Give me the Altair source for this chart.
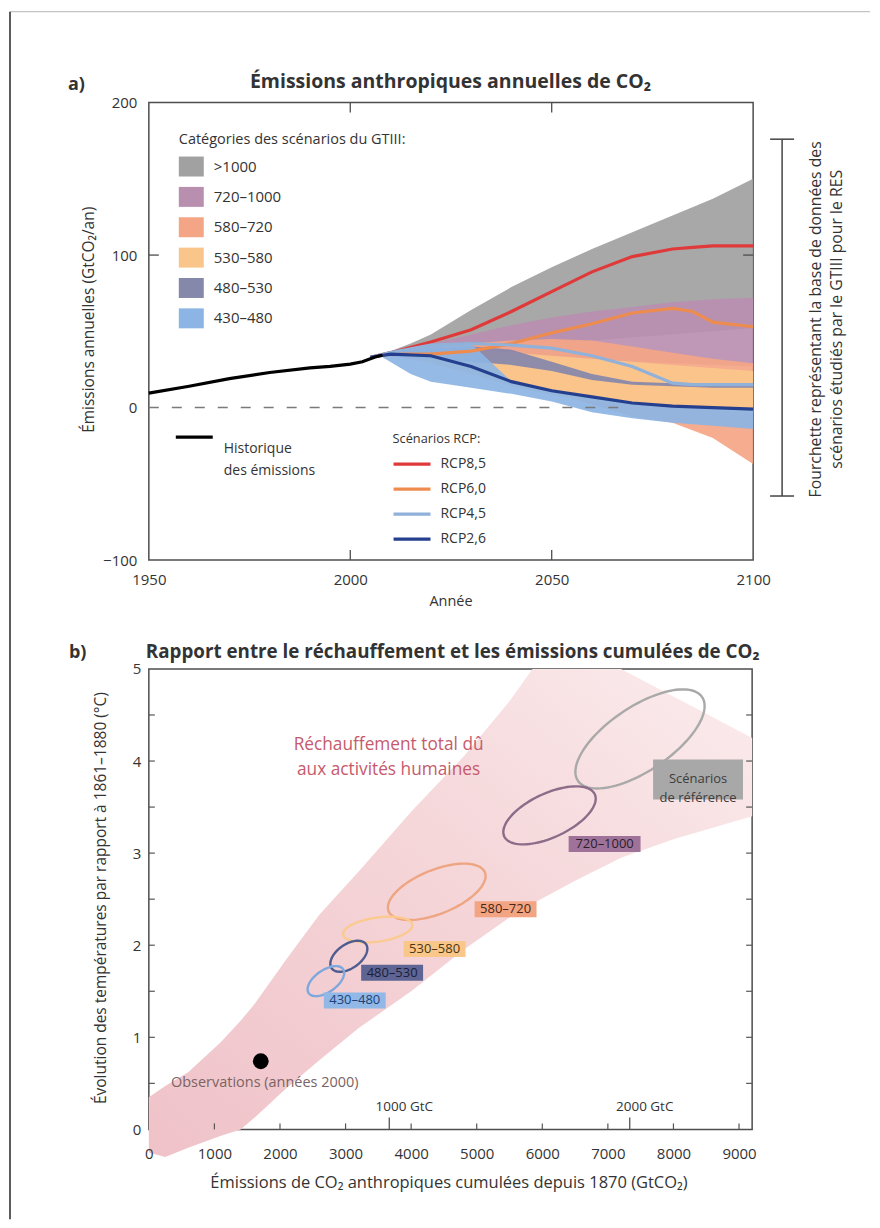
import altair as alt
import numpy as np
import pandas as pd

FONT = "Open Sans"
INK = "#333333"

# =================== DATA : panel a ===================
hist_years = [1950, 1960, 1970, 1980, 1990, 1995, 2000, 2003, 2006, 2008]
hist_vals = [9.5, 14.0, 19.0, 23.0, 26.0, 27.0, 28.5, 30.0, 33.0, 34.5]

rcp_names = ["RCP8,5", "RCP6,0", "RCP4,5", "RCP2,6"]
rcp_years = [2005, 2010, 2020, 2030, 2040, 2050, 2060, 2070, 2080, 2085, 2090, 2100]
rcp85 = [33, 36, 43, 51, 63, 76, 89, 99, 104, 105, 106, 106]
rcp60 = [33, 35, 35, 37, 42, 49, 55, 62, 65, 63, 56, 53]
rcp45 = [33, 36, 41, 42, 41, 39, 34, 27, 16, 15, 15, 15]
rcp26 = [33, 35, 34, 27, 17, 11, 7, 3, 1, 0.5, 0, -1]

cat_names = [">1000", "720–1000", "580–720", "530–580", "480–530", "430–480"]
band_years = [2008, 2015, 2020, 2030, 2040, 2050, 2060, 2070, 2080, 2090, 2100]
hi_1000 = [35, 42, 48, 64, 79, 92, 104, 115, 126, 137, 150]
lo_1000 = [34, 35, 36, 38, 40, 42, 44, 46, 48, 50, 52]
hi_720 = [35, 39, 42, 48, 54, 59, 63, 66, 69, 71, 72]
lo_720 = [34, 34, 34, 34, 33, 32, 31, 30, 29, 28, 27]
hi_580 = [35, 37, 39, 42, 44, 45, 44, 40, 36, 32, 29]
lo_580 = [34, 32, 30, 24, 16, 10, 2, -6, -10, -20, -37]
hi_530 = [35, 37, 38, 38, 36, 34, 32, 30, 28, 26, 24]
lo_530 = [34, 32, 29, 22, 14, 8, 4, 2, 0, -2, -4]
hi_480 = [35, 38, 39, 40, 38, 30, 22, 17, 16, 15, 15]
lo_480 = [34, 33, 32, 30, 28, 24, 18, 15, 14, 13, 13]
hi_430 = [35, 38, 41, 42, 17, 12, 7, 3, 1, 0, -1]
lo_430 = [33, 22, 17, 13, 9, 4, -3, -7, -10, -12, -14]

zero_line_end = [2068]
fourchette = [176, -58]          # range of the WGIII database (GtCO2/yr)
a_xticks = [1950, 2000, 2050, 2100]
a_yticks = [-100, 0, 100, 200]
a_inner_xticks = [2000, 2050]
a_inner_yticks = [100]

# =================== DATA : panel b ===================
plume_x = [0, 250, 600, 1100, 1400, 1600, 2100, 2600, 3200, 4000, 4800, 5500, 5850, 6500, 7200, 8000, 9200]
plume_hi = [0.35, 0.47, 0.62, 0.95, 1.18, 1.35, 1.85, 2.33, 2.8, 3.45, 4.05, 4.65, 5.0, 5.0, 5.0, 4.7, 4.25]
plume_lo = [-0.25, -0.3, -0.2, -0.07, 0.0, 0.12, 0.45, 0.75, 1.1, 1.5, 1.95, 2.3, 2.45, 2.7, 2.95, 3.15, 3.4]

ell_names = [">1000", "720–1000", "580–720", "530–580", "480–530", "430–480"]
ell_cx = [7490, 6110, 4390, 3490, 3050, 2700]
ell_cy = [4.24, 3.41, 2.58, 2.17, 1.88, 1.61]

lab_text = ["Scénarios\nde référence", "720–1000", "580–720", "530–580", "480–530", "430–480"]
lab_x = [8375, 6950, 5440, 4357, 3710, 3140]
lab_y = [3.80, 3.10, 2.39, 1.96, 1.70, 1.40]

obs_x = [1707]
obs_y = [0.74]

b_xticks = [0, 1000, 2000, 3000, 4000, 5000, 6000, 7000, 8000, 9000]
b_yticks = [0, 1, 2, 3, 4, 5]
b_halfticks = [0.5, 1, 1.5, 2, 2.5, 3, 3.5, 4, 4.5]
gtc_ticks = [1000, 2000]  # GtC

# =================== STYLES ===================
BAND_COLORS = {">1000": "#a1a1a1", "720–1000": "#b98fb0", "580–720": "#f4a586",
               "530–580": "#fac58b", "480–530": "#8587ab", "430–480": "#8cb4e4"}
RCP_COLORS = {"RCP8,5": "#e0393a", "RCP6,0": "#ee8c50", "RCP4,5": "#8fb1da", "RCP2,6": "#243f8e"}
ELL_COLORS = {">1000": "#a9a9a9", "720–1000": "#8d6c89", "580–720": "#eea581",
              "530–580": "#fbca90", "480–530": "#4e5d8f", "430–480": "#7ea8dc"}
ELL_SHAPE = {">1000": (75, 32, 34), "720–1000": (50, 22, 25), "580–720": (52, 22, 22),
             "530–580": (35, 12, 8), "480–530": (21, 12, 35), "430–480": (21, 11, 35)}
BOX_FILL = {">1000": "#a8a8a8", "720–1000": "#9f7399", "580–720": "#f3a583",
            "530–580": "#f9c789", "480–530": "#5e6493", "430–480": "#91b8e6"}
BOX_TEXT = {">1000": "#3d3d3d", "720–1000": "#2d1d2b", "580–720": "#4a2515",
            "530–580": "#4a3512", "480–530": "#1b1e3a", "430–480": "#20427a"}
BOX_SIZE = {">1000": (90, 40), "720–1000": (72, 16), "580–720": (62, 16),
            "530–580": (62, 16), "480–530": (62, 16), "430–480": (62, 16)}

WA, HA = 605, 458
WB, HB = 604, 461
XB_MAX, YB_MAX = 9200, 5

# =================== helpers ===================
def txt(s, x, y, size=14.5, weight="normal", align="left", color=INK, angle=0, line_height=None):
    kw = dict(align=align, baseline="middle", fontSize=size, fontWeight=weight,
              color=color, font=FONT, lineBreak="\n")
    if angle:
        kw["angle"] = angle
    if line_height:
        kw["lineHeight"] = line_height
    return alt.Chart(pd.DataFrame({"t": [s]})).mark_text(**kw).encode(
        text="t:N", x=alt.value(x), y=alt.value(y))


def prule(x, x2, y, y2, color, width, dash=None):
    kw = dict(color=color, strokeWidth=width)
    if dash:
        kw["strokeDash"] = dash
    return alt.Chart(pd.DataFrame({"d": [0]})).mark_rule(**kw).encode(
        x=alt.value(x), x2=alt.value(x2), y=alt.value(y), y2=alt.value(y2))


def prect(x, x2, y, y2, color):
    return alt.Chart(pd.DataFrame({"d": [0]})).mark_rect(color=color).encode(
        x=alt.value(x), x2=alt.value(x2), y=alt.value(y), y2=alt.value(y2))


# =================== panel a ===================
XA = alt.Scale(domain=[1950, 2100], nice=False, zero=False)
YA = alt.Scale(domain=[-100, 200], nice=False, zero=False)
AX_XA = alt.Axis(values=a_xticks, format="d", title="Année", labelPadding=12, labelFlush=False,
                 titleX=302, titleY=41, titleBaseline="middle", titleAlign="center", titleFontSize=14.5)
AX_YA = alt.Axis(values=a_yticks, format="d", title="Émissions annuelles (GtCO₂/an)", labelPadding=12,
                 titleX=-60, titleY=217, titleBaseline="middle", titleAlign="center", titleAngle=270,
                 titleFontSize=15.5)


def xa(f):
    return alt.X(f, scale=XA, axis=AX_XA)


def ya(f):
    return alt.Y(f, scale=YA, axis=AX_YA)


band_his = [hi_1000, hi_720, hi_580, hi_530, hi_480, hi_430]
band_los = [lo_1000, lo_720, lo_580, lo_530, lo_480, lo_430]

layers_a = []
for c, his, los in zip(cat_names, band_his, band_los):
    df = pd.DataFrame({"year": band_years, "hi": his, "lo": los, "cat": c})
    layers_a.append(
        alt.Chart(df).mark_area(opacity=0.92, color=BAND_COLORS[c]).encode(
            x=xa("year:Q"), y=ya("hi:Q"), y2="lo:Q"))

zero_df = pd.DataFrame({"x": [1950], "x2": zero_line_end, "v": [0]})
layers_a.append(alt.Chart(zero_df).mark_rule(color="#7a7a7a", strokeWidth=1.4, strokeDash=[10, 13]).encode(
    x=xa("x:Q"), x2="x2:Q", y=ya("v:Q")))

rcp_rows = []
for n, vals in zip(rcp_names, [rcp85, rcp60, rcp45, rcp26]):
    for yr, v in zip(rcp_years, vals):
        rcp_rows.append({"rcp": n, "year": yr, "val": v})
rcp_df = pd.DataFrame(rcp_rows)
layers_a.append(alt.Chart(rcp_df).mark_line(strokeWidth=3.2).encode(
    x=xa("year:Q"), y=ya("val:Q"),
    stroke=alt.Stroke("rcp:N", scale=alt.Scale(domain=rcp_names, range=[RCP_COLORS[n] for n in rcp_names]),
                      legend=None),
    detail="rcp:N"))

hist_df = pd.DataFrame({"year": hist_years, "val": hist_vals})
layers_a.append(alt.Chart(hist_df).mark_line(color="black", strokeWidth=3.2).encode(
    x=xa("year:Q"), y=ya("val:Q")))

# inner ticks
tx = pd.DataFrame({"v": a_inner_xticks})
ty = pd.DataFrame({"v": a_inner_yticks})
layers_a.append(alt.Chart(tx).mark_rule(color="#4d4d4d", strokeWidth=1.3).encode(
    x=xa("v:Q"), y=alt.value(0), y2=alt.value(10)))
layers_a.append(alt.Chart(tx).mark_rule(color="#4d4d4d", strokeWidth=1.3).encode(
    x=xa("v:Q"), y=alt.value(HA), y2=alt.value(HA - 10)))
layers_a.append(alt.Chart(ty).mark_rule(color="#4d4d4d", strokeWidth=1.3).encode(
    y=ya("v:Q"), x=alt.value(0), x2=alt.value(10)))
layers_a.append(alt.Chart(ty).mark_rule(color="#4d4d4d", strokeWidth=1.3).encode(
    y=ya("v:Q"), x=alt.value(WA), x2=alt.value(WA - 10)))

# bracket (range of the database)
br = pd.DataFrame({"hi": [fourchette[0]], "lo": [fourchette[1]]})
layers_a.append(alt.Chart(br).mark_rule(color="#444444", strokeWidth=1.5).encode(
    x=alt.value(634), y=ya("hi:Q"), y2="lo:Q"))
layers_a.append(alt.Chart(pd.DataFrame({"v": fourchette})).mark_rule(color="#444444", strokeWidth=1.5).encode(
    y=ya("v:Q"), x=alt.value(622), x2=alt.value(646)))
layers_a.append(txt("Fourchette représentant la base de données des", 668, 217, size=15.8, align="center", angle=270))
layers_a.append(txt("scénarios étudiés par le GTIII pour le RES", 689, 217, size=15.8, align="center", angle=270))

# legend: categories
layers_a.append(txt("Catégories des scénarios du GTIII:", 30, 37, size=14.5))
for i, c in enumerate(cat_names):
    cy = 64 + 30.4 * i
    layers_a.append(prect(30, 55, cy - 10, cy + 10, BAND_COLORS[c]))
    layers_a.append(txt(c, 65, cy, size=15))

# legend: historical
layers_a.append(prule(27, 64, 335, 335, "black", 3.2))
layers_a.append(txt("Historique\ndes émissions", 75, 347, size=14, line_height=22))

# legend: RCP
layers_a.append(txt("Scénarios RCP:", 244, 337, size=12.8))
for i, n in enumerate(rcp_names):
    cy = 362 + 25 * i
    layers_a.append(prule(245, 282, cy, cy, RCP_COLORS[n], 3.2))
    layers_a.append(txt(n, 292, cy, size=14))

# titles & page frame
layers_a.append(txt("a)", -81, -18, size=18, weight="bold"))
layers_a.append(txt("Émissions anthropiques annuelles de CO₂", 302, -21, size=19.5, weight="bold", align="center"))
layers_a.append(prule(-139, 722, -91, -91, "#c4c4c4", 1.2))
layers_a.append(prule(-139, -139, -91, 1118, "#333333", 1.6))

panel_a = alt.layer(*layers_a).properties(width=WA, height=HA)

# =================== panel b ===================
XPXB = WB / XB_MAX
YPXB = HB / YB_MAX
XB = alt.Scale(domain=[0, XB_MAX], nice=False, zero=False)
YB = alt.Scale(domain=[0, YB_MAX], nice=False, zero=False)
AX_XB = alt.Axis(values=b_xticks, format="d", labelFlush=False,
                 title="Émissions de CO₂ anthropiques cumulées depuis 1870 (GtCO₂)",
                 labelPadding=17, titleX=300, titleY=53, titleBaseline="middle", titleAlign="center",
                 titleFontSize=16.5, zindex=2)
AX_YB = alt.Axis(values=b_yticks, format="d",
                 title="Évolution des températures par rapport à 1861–1880 (°C)",
                 labelPadding=8, titleX=-48, titleY=229, titleBaseline="middle", titleAlign="center",
                 titleAngle=270, titleFontSize=15.5)


def xb(f):
    return alt.X(f, scale=XB, axis=AX_XB)


def yb(f):
    return alt.Y(f, scale=YB, axis=AX_YB)


layers_b = []
plume_df = pd.DataFrame({"x": plume_x, "hi": plume_hi, "lo": plume_lo})
grad = alt.Gradient(gradient="linear",
                    stops=[alt.GradientStop(color="#efc2c8", offset=0),
                           alt.GradientStop(color="#f5d6d9", offset=0.55),
                           alt.GradientStop(color="#fbeced", offset=1)],
                    x1=0, y1=1, x2=1, y2=0)
layers_b.append(alt.Chart(plume_df).mark_area(color=grad, clip=False).encode(
    x=xb("x:Q"), y=yb("hi:Q"), y2="lo:Q"))

# ellipses
ell_rows = []
t = np.linspace(0, 2 * np.pi, 91)
for n, cx, cy in zip(ell_names, ell_cx, ell_cy):
    a, b, ang = ELL_SHAPE[n]
    th = np.radians(ang)
    ex, ey = a * np.cos(t), b * np.sin(t)
    px = ex * np.cos(th) - ey * np.sin(th)
    py = ex * np.sin(th) + ey * np.cos(th)
    for i, (u, v) in enumerate(zip(cx + px / XPXB, cy + py / YPXB)):
        ell_rows.append({"name": n, "x": u, "y": v, "i": i})
ell_df = pd.DataFrame(ell_rows)
layers_b.append(alt.Chart(ell_df).mark_line(strokeWidth=2.4).encode(
    x=xb("x:Q"), y=yb("y:Q"), order="i:Q", detail="name:N",
    stroke=alt.Stroke("name:N", scale=alt.Scale(domain=ell_names, range=[ELL_COLORS[n] for n in ell_names]),
                      legend=None)))

# label boxes
box_rows = []
for n, s, x, y in zip(ell_names, lab_text, lab_x, lab_y):
    w, h = BOX_SIZE[n]
    box_rows.append({"name": n, "t": s, "x": x, "y": y,
                     "x1": x - w / 2 / XPXB, "x2": x + w / 2 / XPXB,
                     "y1": y - h / 2 / YPXB, "y2": y + h / 2 / YPXB})
box_df = pd.DataFrame(box_rows)
layers_b.append(alt.Chart(box_df).mark_rect().encode(
    x=xb("x1:Q"), x2="x2:Q", y=yb("y1:Q"), y2="y2:Q",
    fill=alt.Fill("name:N", scale=alt.Scale(domain=ell_names, range=[BOX_FILL[n] for n in ell_names]),
                  legend=None)))
layers_b.append(alt.Chart(box_df).mark_text(fontSize=13, font=FONT, lineBreak="\n", lineHeight=19).encode(
    x=xb("x:Q"), y=yb("y:Q"), text="t:N",
    color=alt.Color("name:N", scale=alt.Scale(domain=ell_names, range=[BOX_TEXT[n] for n in ell_names]),
                    legend=None)))

# observations
obs_df = pd.DataFrame({"x": obs_x, "y": obs_y, "t": ["Observations (années 2000)"]})
layers_b.append(alt.Chart(obs_df).mark_point(filled=True, shape="circle", size=250, color="black", opacity=1).encode(
    x=xb("x:Q"), y=yb("y:Q")))
layers_b.append(alt.Chart(obs_df).mark_text(fontSize=14.5, font=FONT, color="#7b6363", dx=4, dy=22).encode(
    x=xb("x:Q"), y=yb("y:Q"), text="t:N"))

# plume label
pl_df = pd.DataFrame({"x": [3656], "y": [4.17], "t": ["Réchauffement total dû\naux activités humaines"]})
layers_b.append(alt.Chart(pl_df).mark_text(fontSize=17.3, font=FONT, color="#c65a6c", lineBreak="\n",
                                           lineHeight=25).encode(x=xb("x:Q"), y=yb("y:Q"), text="t:N"))

# ticks
hdf = pd.DataFrame({"v": b_halfticks})
bdf = pd.DataFrame({"v": b_xticks[1:]})
gdf = pd.DataFrame({"v": [g * 44 / 12 for g in gtc_ticks], "t": [f"{g} GtC" for g in gtc_ticks]})
layers_b.append(alt.Chart(hdf).mark_rule(color="#555555", strokeWidth=1.2).encode(
    y=yb("v:Q"), x=alt.value(0), x2=alt.value(6)))
layers_b.append(alt.Chart(hdf).mark_rule(color="#555555", strokeWidth=1.2).encode(
    y=yb("v:Q"), x=alt.value(WB), x2=alt.value(WB - 6)))
layers_b.append(alt.Chart(bdf).mark_rule(color="#555555", strokeWidth=1.2).encode(
    x=xb("v:Q"), y=alt.value(HB), y2=alt.value(HB - 6)))
layers_b.append(alt.Chart(gdf).mark_rule(color="#555555", strokeWidth=1.3).encode(
    x=xb("v:Q"), y=alt.value(HB), y2=alt.value(HB - 12)))
layers_b.append(alt.Chart(gdf).mark_text(fontSize=13.5, font=FONT, color=INK, dx=15).encode(
    x=xb("v:Q"), y=alt.value(HB - 22), text="t:N"))

layers_b.append(txt("b)", -80, -16, size=18, weight="bold"))
layers_b.append(txt("Rapport entre le réchauffement et les émissions cumulées de CO₂", -3, -17, size=18.8,
                    weight="bold"))

panel_b = alt.layer(*layers_b).properties(width=WB, height=HB)

chart = alt.vconcat(panel_a, panel_b, spacing=109, bounds="flush").resolve_scale(
    stroke="independent", fill="independent", color="independent"
).properties(
    padding={"left": 0, "top": 1, "right": 0, "bottom": 0}
).configure(font=FONT).configure_view(
    stroke="#4d4d4d", strokeWidth=1.5
).configure_axis(
    labelFont=FONT, titleFont=FONT, labelFontSize=15, titleFontSize=14.5,
    labelColor=INK, titleColor=INK, titleFontWeight="normal",
    grid=False, ticks=False, tickSize=0, domain=False
)

chart.save("out.html", embed_options={"renderer": "svg", "actions": False})
